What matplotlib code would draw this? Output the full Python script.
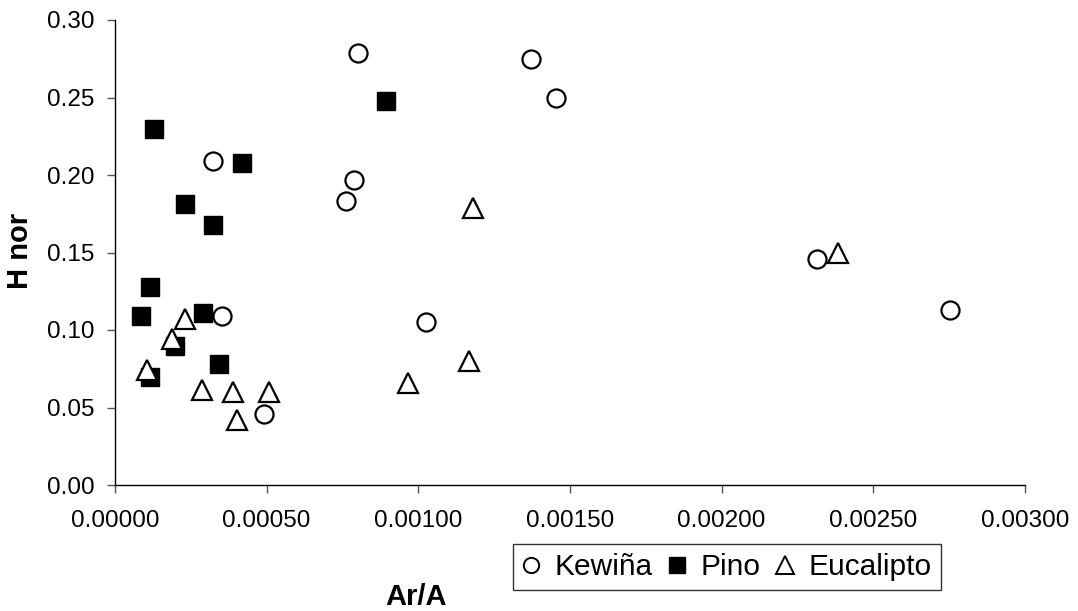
import matplotlib
matplotlib.use("Agg")
import matplotlib.pyplot as plt
from matplotlib.lines import Line2D

plt.rcParams['font.family'] = ['Liberation Sans', 'DejaVu Sans']

# Data
kewina_x = [0.000801, 0.001371, 0.001454, 0.000323, 0.000788, 0.000761,
            0.001025, 0.000353, 0.000491, 0.002314, 0.002752]
kewina_y = [0.279, 0.275, 0.250, 0.209, 0.197, 0.183,
            0.105, 0.109, 0.046, 0.146, 0.113]

pino_x = [0.000129, 0.000419, 0.000893, 0.000231, 0.000323, 0.000115,
          0.000086, 0.000290, 0.000198, 0.000343, 0.000115]
pino_y = [0.230, 0.208, 0.248, 0.181, 0.168, 0.128,
          0.109, 0.111, 0.090, 0.078, 0.070]

euca_x = [0.000232, 0.000188, 0.000105, 0.000287, 0.000389, 0.000508,
          0.000402, 0.001180, 0.000966, 0.001167, 0.002383]
euca_y = [0.107, 0.094, 0.074, 0.061, 0.060, 0.060,
          0.042, 0.179, 0.066, 0.080, 0.150]

series_names = ['Kewiña', 'Pino', 'Eucalipto']
xticks = [0.0, 0.0005, 0.0010, 0.0015, 0.0020, 0.0025, 0.0030]
yticks = [0.0, 0.05, 0.10, 0.15, 0.20, 0.25, 0.30]

W, H = 1078, 611
fig = plt.figure(figsize=(W / 100, H / 100), dpi=100)
ax = fig.add_axes([115 / W, 1 - 485 / H, (1025 - 115) / W, (485 - 20) / H])

ax.plot(pino_x, pino_y, linestyle='none', marker='s', markersize=13.5,
        markerfacecolor='black', markeredgecolor='black', markeredgewidth=1.0, zorder=2)
ax.plot(kewina_x, kewina_y, linestyle='none', marker='o', markersize=13,
        markerfacecolor='white', markeredgecolor='black', markeredgewidth=1.6, zorder=3)
ax.plot(euca_x, euca_y, linestyle='none', marker='^', markersize=15,
        markerfacecolor='white', markeredgecolor='black', markeredgewidth=1.6, zorder=4)

ax.set_xlim(0, 0.003)
ax.set_ylim(0, 0.30)
ax.set_xticks(xticks)
ax.set_yticks(yticks)
ax.set_xticklabels([f"{v:.5f}" for v in xticks])
ax.set_yticklabels([f"{v:.2f}" for v in yticks])
ax.tick_params(axis='both', direction='out', length=6, width=1, labelsize=17.5,
               color='#555555')
ax.tick_params(axis='x', pad=12)
ax.tick_params(axis='y', pad=9)
ax.spines['top'].set_visible(False)
ax.spines['right'].set_visible(False)
for s in ['left', 'bottom']:
    ax.spines[s].set_linewidth(1.0)
    ax.spines[s].set_color('black')

fig.text(20 / W, 1 - 251 / H, 'H nor', rotation=90, ha='center', va='center',
         fontsize=21, fontweight='bold')
fig.text(416 / W, 1 - 597 / H, 'Ar/A', ha='center', va='center',
         fontsize=21, fontweight='bold')

handles = [
    Line2D([], [], linestyle='none', marker='o', markersize=11,
           markerfacecolor='white', markeredgecolor='black', markeredgewidth=1.4),
    Line2D([], [], linestyle='none', marker='s', markersize=11.5,
           markerfacecolor='black', markeredgecolor='black'),
    Line2D([], [], linestyle='none', marker='^', markersize=12.5,
           markerfacecolor='white', markeredgecolor='black', markeredgewidth=1.4),
]
leg = fig.legend(handles, series_names, loc='upper left',
                 bbox_to_anchor=(513 / W, 1 - 544 / H), ncol=3, fontsize=21.5,
                 frameon=True, fancybox=False, shadow=False, handlelength=0.6,
                 handletextpad=0.5, columnspacing=0.5, borderpad=0.3,
                 borderaxespad=0)
leg.get_frame().set_edgecolor('black')
leg.get_frame().set_linewidth(1.0)

fig.savefig('out.png', dpi=100)
